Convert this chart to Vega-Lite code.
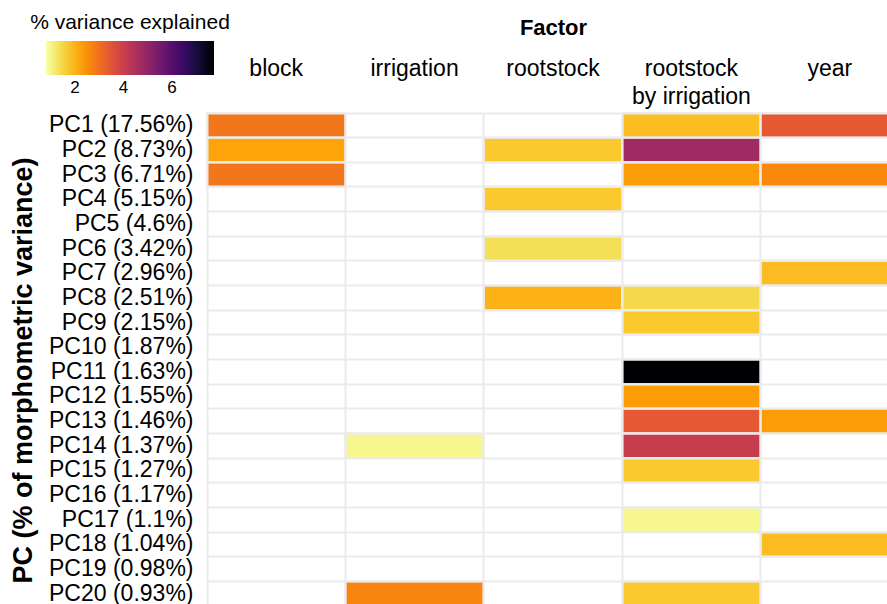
{
  "$schema": "https://vega.github.io/schema/vega-lite/v6.json",
  "autosize": {"type": "none"},
  "padding": {"left": 207, "top": 113, "right": 0, "bottom": 0},
  "width": 692,
  "height": 493,
  "background": "white",
  "config": {"view": {"stroke": null}, "font": "Liberation Sans"},
  "data": {
    "values": [
      {"pc": "PC1 (17.56%)", "factor": "block", "variance": 2.9},
      {"pc": "PC1 (17.56%)", "factor": "rootstock by irrigation", "variance": 1.85},
      {"pc": "PC1 (17.56%)", "factor": "year", "variance": 3.4},
      {"pc": "PC2 (8.73%)", "factor": "block", "variance": 2.2},
      {"pc": "PC2 (8.73%)", "factor": "rootstock", "variance": 1.7},
      {"pc": "PC2 (8.73%)", "factor": "rootstock by irrigation", "variance": 4.75},
      {"pc": "PC3 (6.71%)", "factor": "block", "variance": 2.9},
      {"pc": "PC3 (6.71%)", "factor": "rootstock by irrigation", "variance": 2.3},
      {"pc": "PC3 (6.71%)", "factor": "year", "variance": 2.6},
      {"pc": "PC4 (5.15%)", "factor": "rootstock", "variance": 1.7},
      {"pc": "PC6 (3.42%)", "factor": "rootstock", "variance": 1.35},
      {"pc": "PC7 (2.96%)", "factor": "year", "variance": 1.85},
      {"pc": "PC8 (2.51%)", "factor": "rootstock", "variance": 2.0},
      {"pc": "PC8 (2.51%)", "factor": "rootstock by irrigation", "variance": 1.45},
      {"pc": "PC9 (2.15%)", "factor": "rootstock by irrigation", "variance": 1.7},
      {"pc": "PC11 (1.63%)", "factor": "rootstock by irrigation", "variance": 7.73},
      {"pc": "PC12 (1.55%)", "factor": "rootstock by irrigation", "variance": 2.3},
      {"pc": "PC13 (1.46%)", "factor": "rootstock by irrigation", "variance": 3.4},
      {"pc": "PC13 (1.46%)", "factor": "year", "variance": 2.3},
      {"pc": "PC14 (1.37%)", "factor": "irrigation", "variance": 0.95},
      {"pc": "PC14 (1.37%)", "factor": "rootstock by irrigation", "variance": 4.05},
      {"pc": "PC15 (1.27%)", "factor": "rootstock by irrigation", "variance": 1.7},
      {"pc": "PC17 (1.1%)", "factor": "rootstock by irrigation", "variance": 0.95},
      {"pc": "PC18 (1.04%)", "factor": "year", "variance": 1.85},
      {"pc": "PC20 (0.93%)", "factor": "irrigation", "variance": 2.65},
      {"pc": "PC20 (0.93%)", "factor": "rootstock by irrigation", "variance": 1.7}
    ]
  },
  "mark": {"type": "rect", "stroke": "#ebebeb", "strokeWidth": 2},
  "encoding": {
    "x": {
      "field": "factor",
      "type": "nominal",
      "scale": {"domain": ["block", "irrigation", "rootstock", "rootstock by irrigation", "year"], "paddingInner": 0, "paddingOuter": 0},
      "axis": {
        "orient": "top",
        "ticks": false,
        "domain": false,
        "grid": true,
        "bandPosition": 0,
        "gridColor": "#ebebeb",
        "gridWidth": 2,
        "labelAngle": 0,
        "labelFontSize": 23,
        "labelColor": "black",
        "labelBaseline": "top",
        "labelPadding": 56,
        "labelLineHeight": 28,
        "labelExpr": "datum.value == 'rootstock by irrigation' ? ['rootstock', 'by irrigation'] : datum.value",
        "title": "Factor",
        "titleFontSize": 22,
        "titleFontWeight": "bold",
        "titleColor": "black",
        "titleBaseline": "middle",
        "titleY": -86
      }
    },
    "y": {
      "field": "pc",
      "type": "nominal",
      "scale": {"domain": ["PC1 (17.56%)", "PC2 (8.73%)", "PC3 (6.71%)", "PC4 (5.15%)", "PC5 (4.6%)", "PC6 (3.42%)", "PC7 (2.96%)", "PC8 (2.51%)", "PC9 (2.15%)", "PC10 (1.87%)", "PC11 (1.63%)", "PC12 (1.55%)", "PC13 (1.46%)", "PC14 (1.37%)", "PC15 (1.27%)", "PC16 (1.17%)", "PC17 (1.1%)", "PC18 (1.04%)", "PC19 (0.98%)", "PC20 (0.93%)"], "paddingInner": 0, "paddingOuter": 0},
      "axis": {
        "orient": "left",
        "ticks": false,
        "domain": false,
        "grid": true,
        "bandPosition": 0,
        "gridColor": "#ebebeb",
        "gridWidth": 2,
        "labelFontSize": 23,
        "labelColor": "black",
        "labelPadding": 14,
        "title": "PC (% of morphometric variance)",
        "titleFontSize": 27,
        "titleFontWeight": "bold",
        "titleColor": "black",
        "titleBaseline": "bottom",
        "titleLimit": 600,
        "titleX": -170,
        "titleY": 257
      }
    },
    "color": {
      "field": "variance",
      "type": "quantitative",
      "scale": {"scheme": "inferno", "reverse": true, "domain": [0.8, 7.73]},
      "legend": {
        "orient": "none",
        "direction": "horizontal",
        "legendX": -177,
        "legendY": -101,
        "gradientLength": 168,
        "gradientThickness": 34,
        "gradientStrokeWidth": 0,
        "title": "% variance explained",
        "titleFontSize": 21,
        "titleFontWeight": "normal",
        "titleColor": "black",
        "titleAnchor": "middle",
        "titleLimit": 400,
        "titlePadding": 8,
        "values": [2, 4, 6],
        "labelFontSize": 17,
        "labelColor": "black",
        "labelOffset": 5
      }
    }
  }
}
